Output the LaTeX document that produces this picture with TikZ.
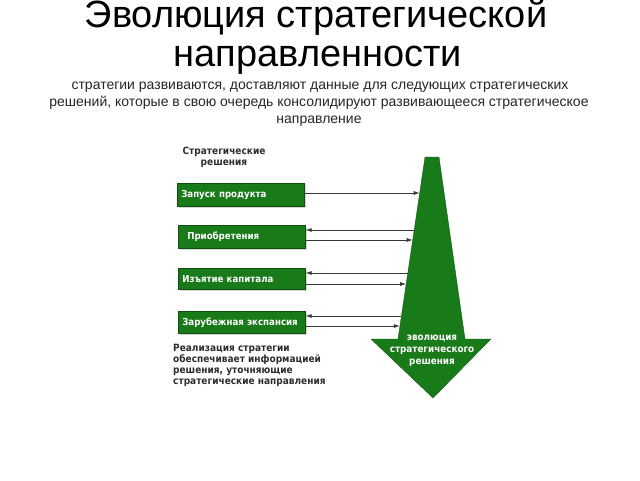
\documentclass[tikz,border=0pt]{standalone}
\usepackage{fontspec}
\setmainfont{Liberation Sans}
\newfontfamily\djb{DejaVu Sans}[FakeStretch=0.9]
\usetikzlibrary{arrows.meta,shadows}
\definecolor{gr}{RGB}{24,122,24}
\definecolor{grd}{RGB}{12,80,12}
\definecolor{txt}{RGB}{45,45,45}
\definecolor{ln}{RGB}{55,55,55}
\begin{document}
\begin{tikzpicture}[x=1pt,y=-1pt,
  box/.style={fill=gr, draw=grd, line width=0.6pt, minimum width=127pt, minimum height=23pt,
    inner xsep=4pt, inner ysep=0pt, anchor=north west, text=white, align=left, text width=119pt,
    font=\djb\bfseries\fontsize{9.6}{11}\selectfont,
    drop shadow={shadow xshift=2pt, shadow yshift=-2pt, opacity=0.3}},
  lbl/.style={text=txt, font=\djb\bfseries\fontsize{10}{11}\selectfont, inner sep=0pt},
  conn/.style={draw=ln, line width=0.8pt, -{Latex[length=6pt,width=4pt]}}]
\useasboundingbox (0,0) rectangle (640,480);
\fill[white] (0,0) rectangle (640,480);
% title
\node[anchor=base, inner sep=0, font=\fontsize{38}{38}\selectfont] (t1) at (316,27.5) {Эволюция стратегической};
\node[anchor=base, inner sep=0, font=\fontsize{38}{38}\selectfont] (t2) at (318,66) {направленности};
\node[anchor=base, inner sep=0, font=\fontsize{14}{14}\selectfont, text=black!85] (s1) at (320,89.5) {стратегии развиваются, доставляют данные для следующих стратегических};
\node[anchor=base, inner sep=0, font=\fontsize{14}{14}\selectfont, text=black!85] (s2) at (319,106.5) {решений, которые в свою очередь консолидируют развивающееся стратегическое};
\node[anchor=base, inner sep=0, font=\fontsize{14}{14}\selectfont, text=black!85] (s3) at (319,123) {направление};
% label
\node[lbl, align=center, anchor=north] (sr) at (224,147) {Стратегические\\решения};
% big arrow
\fill[gr, draw=grd, line width=0.3pt] (425,157) -- (439,157) -- (465,339) -- (491,339) -- (433,398) -- (371,339) -- (398,339) -- cycle;
\node[text=white, font=\djb\bfseries\fontsize{9.8}{12}\selectfont, align=center, inner sep=0] (ev) at (432,350.5) {эволюция\\стратегического\\решения};
% boxes
\node[box] (b1) at (177,183) {Запуск продукта};
\node[box] (b2) at (178,225) {\hspace*{5pt}Приобретения};
\node[box, minimum height=21pt] (b3) at (178,268) {Изъятие капитала};
\node[box, minimum height=22pt] (b4) at (178,311) {Зарубежная экспансия};
% edge points
\coordinate (e1) at (419.7,193);
\coordinate (e2a) at (414.2,230);
\coordinate (e2b) at (412.7,240);
\coordinate (e3a) at (407.8,273);
\coordinate (e3b) at (406.2,284);
\coordinate (e4a) at (401.4,316);
\coordinate (e4b) at (399.9,326);
\draw[conn] (b1.east |- e1) -- (e1);
\draw[conn] (e2a) -- (b2.east |- e2a);
\draw[conn] (b2.east |- e2b) -- (e2b);
\draw[conn] (e3a) -- (b3.east |- e3a);
\draw[conn] (b3.east |- e3b) -- (e3b);
\draw[conn] (e4a) -- (b4.east |- e4a);
\draw[conn] (b4.east |- e4b) -- (e4b);
% bottom text
\node[lbl, align=left, anchor=north west] (rs) at (173,344) {Реализация стратегии\\обеспечивает информацией\\решения, уточняющие\\стратегические направления};
\end{tikzpicture}
\end{document}
